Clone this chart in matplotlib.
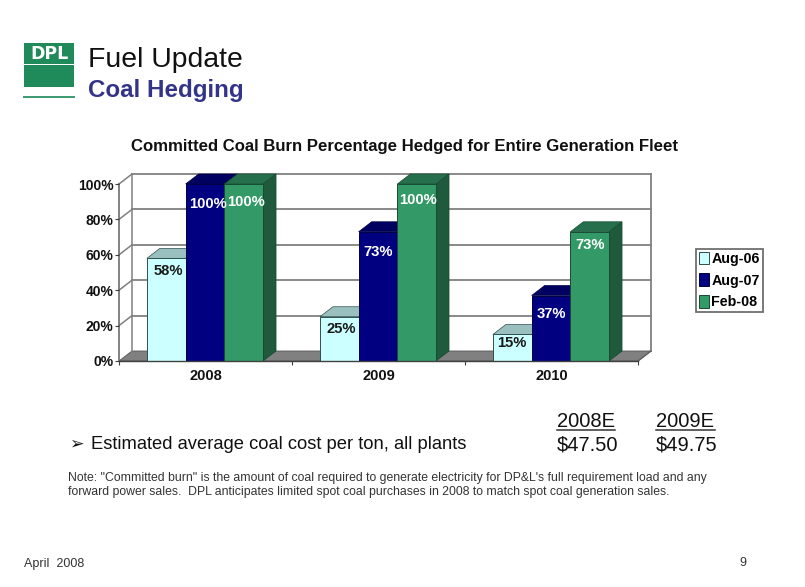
import matplotlib
matplotlib.use("Agg")
import matplotlib.pyplot as plt
from matplotlib.patches import Polygon, Rectangle
from matplotlib.lines import Line2D
import numpy as np

years = ["2008", "2009", "2010"]
series_names = ["Aug-06", "Aug-07", "Feb-08"]
aug06 = [58, 25, 15]
aug07 = [100, 73, 37]
feb08 = [100, 100, 73]
y_ticks = [0, 20, 40, 60, 80, 100]
cost_years = ["2008E", "2009E"]
cost_values = ["$47.50", "$49.75"]

W, H = 805, 587
plt.rcParams["font.family"] = ["Liberation Sans", "DejaVu Sans"]
fig = plt.figure(figsize=(W / 100, H / 100), dpi=100, facecolor="white")

def fx(x): return x / W
def fy(y): return 1 - y / H
def T(x, y, s, **kw):
    return fig.text(fx(x), fy(y), s, **kw)

# plot area = front plane of the 3D box
L, R, TOP, BOT = 119, 638, 184, 361
ax = fig.add_axes([fx(L), fy(BOT), (R - L) / W, (BOT - TOP) / H])
ax.set_xlim(0, 3)
ax.set_ylim(0, 100)
ax.patch.set_visible(False)
for s in ax.spines.values():
    s.set_visible(False)

DX = 13 * 3 / (R - L)
DY = 10 * 100 / (BOT - TOP)
GRID = "#808080"

def poly(pts, fc, ec="none", lw=0, z=1):
    ax.add_patch(Polygon(pts, closed=True, facecolor=fc, edgecolor=ec, linewidth=lw,
                         zorder=z, clip_on=False))

# floor
poly([(0, 0), (3, 0), (3 + DX, DY), (DX, DY)], "#808080", "#555555", 0.6, 1)
# back wall grid and left wall
for v in y_ticks[1:]:
    ax.plot([DX, 3 + DX], [v + DY, v + DY], color=GRID, lw=1.3, zorder=1, clip_on=False)
    ax.plot([0, DX], [v, v + DY], color=GRID, lw=1.1, zorder=1, clip_on=False)
ax.plot([3 + DX, 3 + DX], [DY, 100 + DY], color=GRID, lw=1.3, zorder=1, clip_on=False)
ax.plot([DX, DX], [DY, 100 + DY], color=GRID, lw=1.1, zorder=1, clip_on=False)
ax.plot([0, 0], [0, 100], color="#606060", lw=1.1, zorder=1, clip_on=False)
ax.plot([0, 3], [0, 0], color="#404040", lw=1.0, zorder=9, clip_on=False)
ax.plot([3, 3 + DX], [0, DY], color="#606060", lw=1.0, zorder=1, clip_on=False)

# bars
BW = 38.7 * 3 / (R - L)
face = ["#CCFFFF", "#000080", "#339966"]
top_c = ["#99BFBF", "#000060", "#266F4C"]
side_c = ["#7FA0A0", "#000050", "#1F5A3D"]
edge = ["#2F4F4F", "#000040", "#174A32"]
all_vals = [aug06, aug07, feb08]
x0 = np.arange(3) + 0.5
handles = []
for i, vals in enumerate(all_vals):
    xs = x0 + (i - 1) * BW - 0.003
    for x, v in zip(xs, vals):
        l, r = x - BW / 2, x + BW / 2
        z = 3 + i
        poly([(l, v), (r, v), (r + DX, v + DY), (l + DX, v + DY)], top_c[i], edge[i], 0.5, z)
        poly([(r, 0), (r + DX, DY), (r + DX, v + DY), (r, v)], side_c[i], edge[i], 0.5, z)
    bars = ax.bar(xs, vals, BW, color=face[i], edgecolor=edge[i], linewidth=0.7, zorder=3.5 + i,
                  label=series_names[i])
    handles.append(bars)

# data labels, placed relative to each bar top (px offset right, px offset down)
label_off = [[(2, 13), (3, 20), (2, 18)],
             [(2, 12), (0, 20), (1, 16)],
             [(0, 9), (0, 18), (0, 13)]]
lab_col = ["#1a1a1a", "white", "white"]
for i, vals in enumerate(all_vals):
    xs = x0 + (i - 1) * BW - 0.003
    for j, (x, v) in enumerate(zip(xs, vals)):
        ox, oy = label_off[j][i]
        ax.annotate(f"{v}%", (x, v), xytext=(ox * 0.72, -oy * 0.72), textcoords="offset points",
                    ha="center", va="center", fontsize=10.6, fontweight="bold",
                    color=lab_col[i], zorder=12, annotation_clip=False)

ax.set_yticks(y_ticks)
ax.set_yticklabels([f"{v}%" for v in y_ticks], fontsize=10, fontweight="bold", color="#111111")
ax.set_xticks([0, 1, 2, 3])
ax.set_xticklabels([])
ax.tick_params(axis="y", length=3, width=0.8, color="#404040", pad=1)
ax.tick_params(axis="x", length=3, width=0.8, color="#404040")
for x, yr in zip(x0, years):
    ax.annotate(yr, (x, 0), xytext=(0, -11), textcoords="offset points", ha="center", va="center",
                fontsize=10.5, fontweight="bold", color="#111111", annotation_clip=False)

leg = fig.legend(handles=handles, loc="center", bbox_to_anchor=(fx(729.5), fy(280.5)),
                 prop={"weight": "bold", "size": 10.3}, fancybox=False, shadow=False,
                 edgecolor="#707070", facecolor="white", framealpha=1, handlelength=0.65,
                 handleheight=0.95, handletextpad=0.2, labelspacing=0.54, borderpad=0.2,
                 borderaxespad=0)
leg.get_frame().set_linewidth(1.3)

# logo
G = "#1F8A5A"
fig.patches.append(Rectangle((fx(24), fy(87)), 50 / W, 44 / H, transform=fig.transFigure, facecolor=G, edgecolor="none"))
fig.patches.append(Rectangle((fx(24), fy(65)), 50 / W, 1.3 / H, transform=fig.transFigure, facecolor="white", edgecolor="none"))
fig.add_artist(Line2D([fx(24), fx(74)], [fy(97), fy(97)], color="#3A9A72", lw=1.4))
T(49, 54, "DPL", color="white", fontsize=12.5, fontweight="bold", ha="center", va="center",
  family="DejaVu Sans")

# headings
T(88, 67, "Fuel Update", fontsize=20.4, color="#111111", va="baseline")
T(88, 97.5, "Coal Hedging", fontsize=17.4, fontweight="bold", color="#333388", va="baseline")
T(404, 151, "Committed Coal Burn Percentage Hedged for Entire Generation Fleet",
  fontsize=12.1, fontweight="bold", color="#111111", ha="center", va="baseline")

# bullet and costs
T(69, 449, "➢", fontsize=12.5, color="#111111", va="baseline", family="DejaVu Sans")
T(91, 449, "Estimated average coal cost per ton, all plants", fontsize=13.2, color="#111111", va="baseline")
for x, head, val in zip([556.5, 656], cost_years, cost_values):
    T(x, 427, head, fontsize=14.5, color="#111111", va="baseline")
    T(x, 451, val, fontsize=14.5, color="#111111", va="baseline")
    fig.add_artist(Line2D([fx(x), fx(x + 58.5)], [fy(430), fy(430)], color="#333333", lw=1.1))

T(68, 481, "Note: \"Committed burn\" is the amount of coal required to generate electricity for DP&L's full requirement load and any",
  fontsize=8.8, color="#333333", va="baseline")
T(68, 495, "forward power sales.  DPL anticipates limited spot coal purchases in 2008 to match spot coal generation sales.",
  fontsize=8.8, color="#333333", va="baseline")
T(24, 567, "April  2008", fontsize=9, color="#333333", va="baseline")
T(739, 566, "9", fontsize=9, color="#333333", va="baseline")

fig.savefig("out.png", dpi=100, facecolor="white")
